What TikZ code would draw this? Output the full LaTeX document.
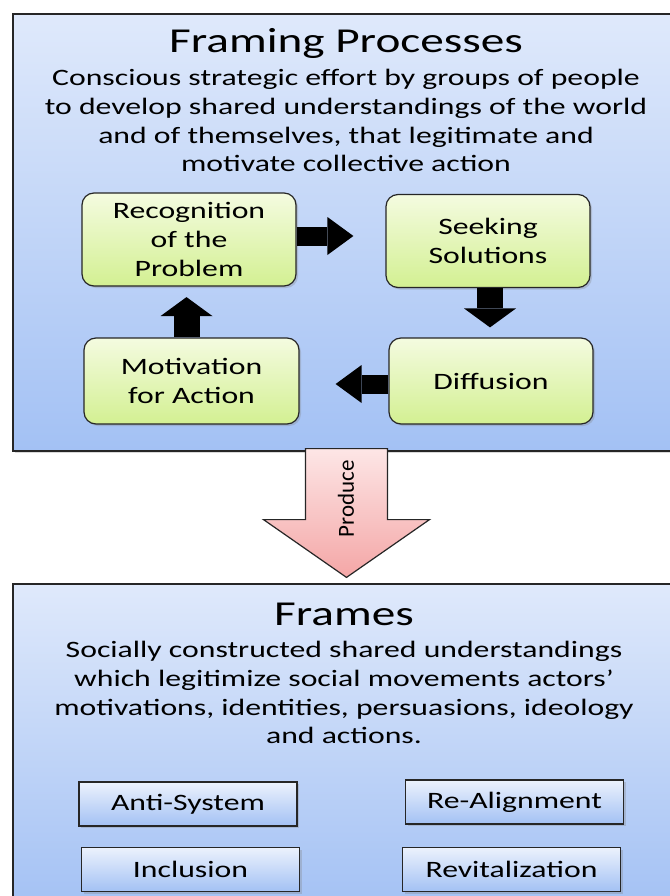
\documentclass[tikz,border=0pt]{standalone}
\usepackage{fontspec}
\setmainfont{Carlito}[FakeStretch=1.35]
\newfontfamily\plainfont{Carlito}
\usetikzlibrary{calc,shadows,arrows.meta}

\definecolor{bluetop}{HTML}{DFE9FB}
\definecolor{bluebot}{HTML}{A3C1F4}
\definecolor{greentop}{HTML}{F4FBE0}
\definecolor{greenbot}{HTML}{D3F092}
\definecolor{pinktop}{HTML}{FDE6E6}
\definecolor{pinkbot}{HTML}{F4A6A6}

\newcommand{\titlesize}{\fontsize{35}{42}\selectfont}
\newcommand{\textsize}{\fontsize{23.5}{28.6}\selectfont}

\tikzset{
  bigbox/.style={draw=black!85, line width=1.2pt, top color=bluetop, bottom color=bluebot,
    drop shadow={shadow xshift=2pt, shadow yshift=-2pt, opacity=0.3}},
  stagebox/.style={draw=black!85, line width=1.2pt, rounded corners=12pt, align=center,
    top color=greentop, bottom color=greenbot, font=\textsize,
    drop shadow={shadow xshift=2pt, shadow yshift=-2pt, opacity=0.3}},
  framebox/.style={draw=black!85, line width=1.2pt, top color=bluetop!60!white, bottom color=bluebot,
    minimum width=218pt, minimum height=44pt, font=\textsize,
    drop shadow={shadow xshift=2pt, shadow yshift=-2pt, opacity=0.3}},
  hblock/.style={line width=19pt, -{Triangle[length=26pt, width=38pt, line width=0pt]}},
  vblock/.style={line width=26pt, -{Triangle[length=19pt, width=52pt, line width=0pt]}},
  produce/.style={draw=black!85, line width=1.2pt, top color=pinktop, bottom color=pinkbot}
}

\begin{document}
\begin{tikzpicture}[x=1pt, y=-1pt]
  \useasboundingbox (0,0) rectangle (669,896);

  % framing processes
  \node[bigbox, minimum width=667pt, minimum height=437pt] (procbox) at (346.5,232.5) {};
  \node[anchor=base] (proctitle) at (346,53) {\titlesize Framing Processes};
  \node[anchor=north, align=center, font=\textsize] (proctext) at (346,66)
    {Conscious strategic effort by groups of people\\
     to develop shared understandings of the world\\
     and of themselves, that legitimate and\\
     motivate collective action};

  \node[stagebox, minimum width=214pt, minimum height=93pt] (recog) at (189,239.5)
    {Recognition\\of the\\Problem};
  \node[stagebox, minimum width=204pt, minimum height=93pt] (seek) at (488,241)
    {Seeking\\Solutions};
  \node[stagebox, minimum width=215pt, minimum height=86pt] (motiv) at (191.5,381)
    {Motivation\\for Action};
  \node[stagebox, minimum width=204pt, minimum height=86pt] (diffus) at (491,381)
    {Diffusion};

  \draw[hblock, shorten >=32pt] ([yshift=3.5pt]recog.east) -- ([yshift=3.5pt]recog.east -| seek.west);
  \draw[vblock, shorten >=10pt] ([xshift=2pt]seek.south) -- ([xshift=2pt]seek.south |- diffus.north);
  \draw[hblock, shorten >=36pt] ([yshift=-3pt]diffus.west) -- ([yshift=-3pt]diffus.west -| motiv.east);
  \draw[vblock, shorten >=10.5pt] ([xshift=-5pt]motiv.north) -- ([xshift=-5pt]motiv.north |- recog.south);

  % frames
  \node[bigbox, minimum width=667pt, minimum height=326pt] (frmbox) at (346.5,747) {};
  \node[anchor=base] (frmtitle) at (344,625) {\titlesize Frames};
  \node[anchor=north, align=center, font=\textsize] (frmtext) at (344,638)
    {Socially constructed shared understandings\\
     which legitimize social movements actors'\\
     motivations, identities, persuasions, ideology\\
     and actions.};

  \node[framebox] (antisys) at (188,804) {Anti-System};
  \node[framebox] (realign) at (514.5,802) {Re-Alignment};
  \node[framebox] (inclus) at (190.5,869.5) {Inclusion};
  \node[framebox] (revital) at (511.5,869.5) {Revitalization};

  % produce arrow
  \path[produce] ($(procbox.south)+(-41,-3)$) -- ($(procbox.south)+(41,-3)$)
    -- ($(procbox.south)+(41,68)$) -- ($(procbox.south)+(83,68)$)
    -- ([yshift=6pt]frmbox.north) -- ($(procbox.south)+(-83,68)$)
    -- ($(procbox.south)+(-41,68)$) -- cycle;
  \node[rotate=90] (prodlabel) at (346,499) {\plainfont\fontsize{23}{27}\selectfont Produce};
\end{tikzpicture}
\end{document}
